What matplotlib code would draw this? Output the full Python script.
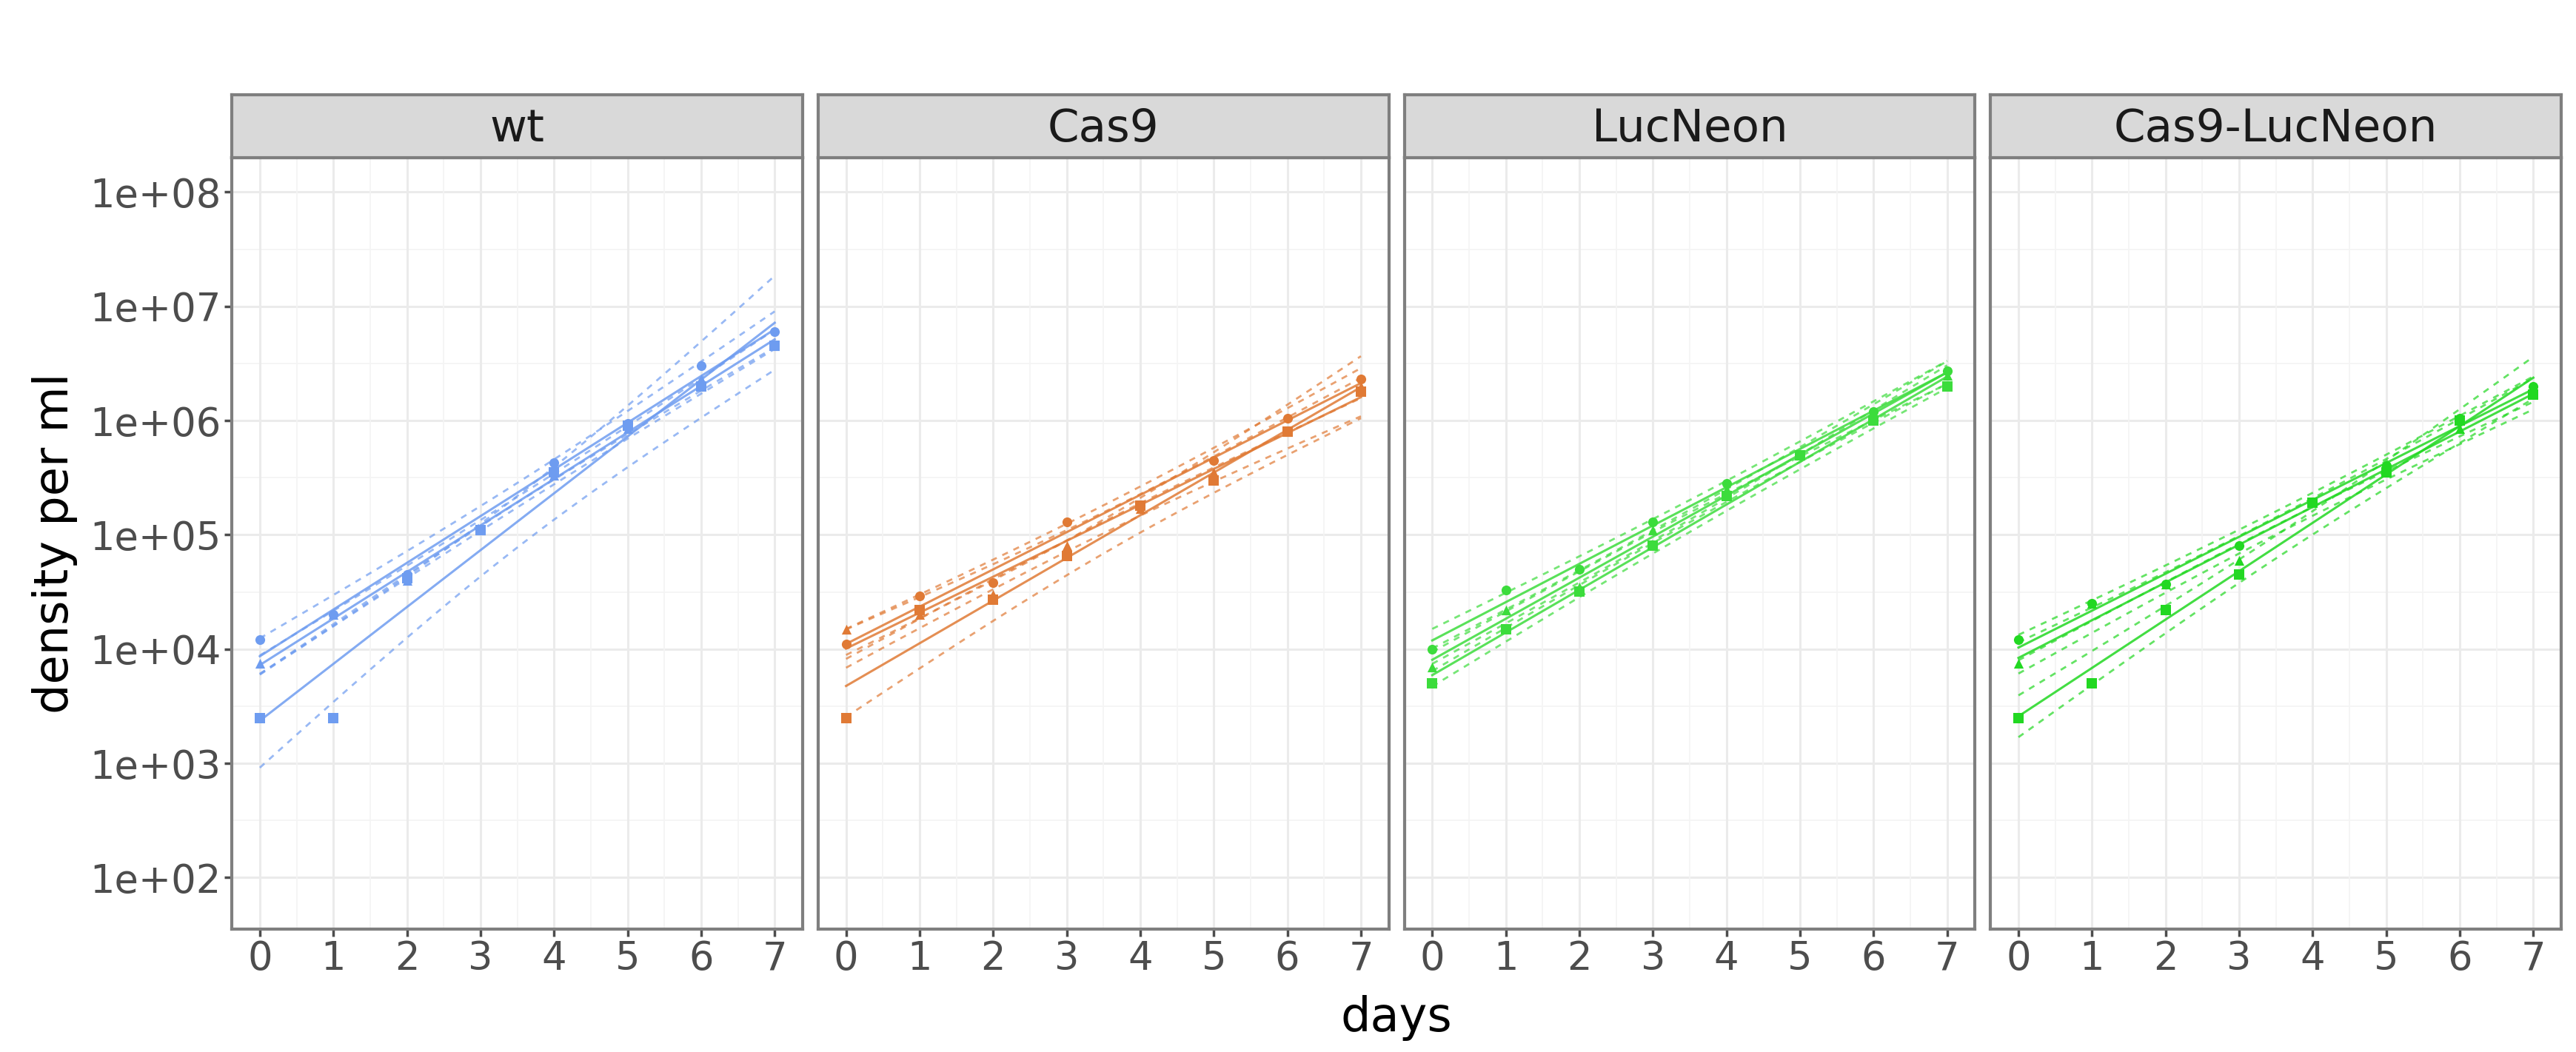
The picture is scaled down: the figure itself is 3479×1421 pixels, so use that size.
import matplotlib
matplotlib.use("Agg")
import matplotlib.pyplot as plt
import numpy as np

days = [0, 1, 2, 3, 4, 5, 6, 7]
panels = ["wt", "Cas9", "LucNeon", "Cas9-LucNeon"]
colors = ["#6E9CF0", "#E07A35", "#3CDC3C", "#22D822"]

# replicate densities (per ml), one list per replicate
wt_reps = [
    [1.2e4, 2.0e4, 4.5e4, 1.1e5, 4.3e5, 9.5e5, 3.0e6, 6.0e6],
    [7.5e3, 2.0e4, 4.0e4, 1.1e5, 3.3e5, 8.5e5, 2.3e6, 4.5e6],
    [2.5e3, 2.5e3, 4.2e4, 1.1e5, 3.5e5, 9.0e5, 2.0e6, 4.5e6],
]
cas9_reps = [
    [1.1e4, 2.9e4, 3.8e4, 1.3e5, 1.8e5, 4.5e5, 1.05e6, 2.3e6],
    [1.5e4, 2.0e4, 3.0e4, 8.0e4, 1.7e5, 3.5e5, 8.0e5, 2.0e6],
    [2.5e3, 2.2e4, 2.7e4, 6.5e4, 1.8e5, 3.0e5, 8.0e5, 1.8e6],
]
lucneon_reps = [
    [1.0e4, 3.3e4, 5.0e4, 1.3e5, 2.8e5, 5.0e5, 1.2e6, 2.7e6],
    [7.0e3, 2.2e4, 3.5e4, 1.1e5, 2.5e5, 5.0e5, 1.1e6, 2.5e6],
    [5.0e3, 1.5e4, 3.2e4, 8.0e4, 2.2e5, 5.0e5, 1.0e6, 2.0e6],
]
cas9luc_reps = [
    [1.2e4, 2.5e4, 3.7e4, 8.0e4, 1.9e5, 4.0e5, 1.05e6, 2.0e6],
    [7.5e3, 2.5e4, 3.7e4, 6.0e4, 1.9e5, 3.5e5, 8.5e5, 1.8e6],
    [2.5e3, 5.0e3, 2.2e4, 4.5e4, 1.9e5, 3.5e5, 1.0e6, 1.7e6],
]
all_reps = [wt_reps, cas9_reps, lucneon_reps, cas9luc_reps]
markers = ["o", "^", "s"]

fig = plt.figure(figsize=(34.8, 14.21), dpi=100)
left, right, bottom, top, strip_h, gap = 0.09, 0.994, 0.117, 0.85, 0.06, 0.006
w = (right - left - 3 * gap) / 4
x = np.array(days, dtype=float)
xf = np.linspace(0, 7, 50)

for i, (name, reps, col) in enumerate(zip(panels, all_reps, colors)):
    x0 = left + i * (w + gap)
    ax = fig.add_axes([x0, bottom, w, top - bottom])
    ax.set_yscale("log")
    ax.set_xlim(-0.38, 7.38)
    ax.set_ylim(10**1.55, 10**8.3)
    for dec in range(2, 9):
        ax.axhline(10**dec, color="#EBEBEB", lw=2.2, zorder=0)
    for dec in np.arange(1.5, 8.5, 1.0):
        ax.axhline(10**dec, color="#F4F4F4", lw=1.2, zorder=0)
    for d in days:
        ax.axvline(d, color="#EBEBEB", lw=2.2, zorder=0)
    for d in np.arange(-0.5, 7.6, 1.0):
        ax.axvline(d, color="#F4F4F4", lw=1.2, zorder=0)
    for reps_vals, m in zip(reps, markers):
        y = np.log10(reps_vals)
        p, cov = np.polyfit(x, y, 1, cov=True)
        yhat = p[0] * xf + p[1]
        se = np.sqrt(cov[0, 0] * xf**2 + 2 * cov[0, 1] * xf + cov[1, 1])
        ax.plot(xf, 10**yhat, color=col, lw=2.2, alpha=0.85)
        ax.plot(xf, 10**(yhat + 2.45 * se), color=col, lw=2, ls=(0, (3, 3)), alpha=0.7)
        ax.plot(xf, 10**(yhat - 2.45 * se), color=col, lw=2, ls=(0, (3, 3)), alpha=0.7)
        ax.scatter(x, reps_vals, marker=m, s=90, color=col, zorder=3, lw=0)
    for s in ax.spines.values():
        s.set_color("#7F7F7F")
        s.set_linewidth(3)
    ax.set_xticks(days)
    ax.tick_params(labelsize=38, colors="#4D4D4D", length=7, width=2.5)
    ax.minorticks_off()
    ax.set_yticks([10**k for k in range(2, 9)])
    if i == 0:
        ax.set_yticklabels(["1e+%02d" % k for k in range(2, 9)])
        ax.set_ylabel("density per ml", fontsize=46, labelpad=12)
    else:
        ax.set_yticklabels([])
        ax.tick_params(axis="y", length=0)
    sax = fig.add_axes([x0, top, w, strip_h])
    sax.set_facecolor("#D9D9D9")
    sax.set_xticks([])
    sax.set_yticks([])
    for s in sax.spines.values():
        s.set_color("#7F7F7F")
        s.set_linewidth(3)
    sax.text(0.5, 0.45, name, ha="center", va="center", fontsize=44, color="#1A1A1A", transform=sax.transAxes)

fig.text((left + right) / 2, 0.02, "days", ha="center", fontsize=46)
fig.savefig("out.png", dpi=100)
